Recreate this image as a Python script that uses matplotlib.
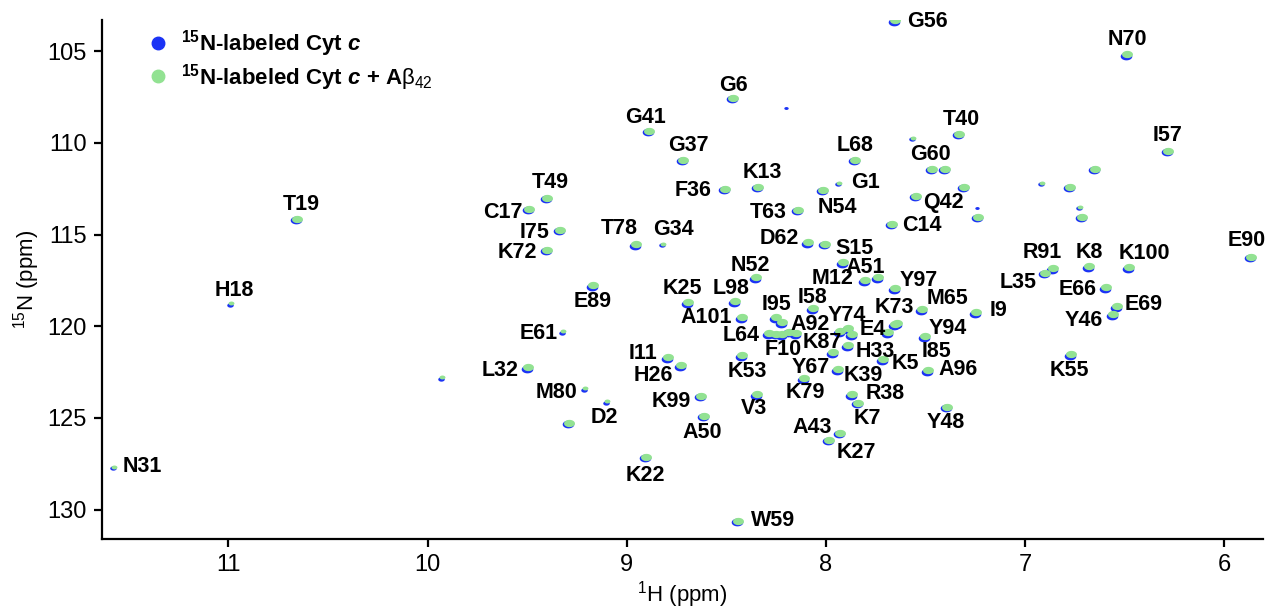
import matplotlib
matplotlib.use("Agg")
import matplotlib.pyplot as plt
import matplotlib.transforms as mtransforms
from matplotlib.path import Path
from matplotlib.lines import Line2D
import numpy as np

plt.rcParams['font.family'] = ['Liberation Sans', 'DejaVu Sans']
plt.rcParams['mathtext.fontset'] = 'custom'
plt.rcParams['mathtext.rm'] = 'Liberation Sans'
plt.rcParams['mathtext.bf'] = 'Liberation Sans:bold'
plt.rcParams['mathtext.it'] = 'Liberation Sans:bold:italic'

# 1H / 15N shifts (ppm) of the cross peaks in the Cyt c + Abeta42 spectrum
h_ppm = [7.652, 6.487, 8.465, 8.887, 8.716, 7.852, 8.339, 8.505, 8.013, 9.399,
         7.330, 6.281, 7.466, 7.401, 6.648, 7.305, 6.773, 7.546, 7.235, 6.713,
         7.667, 5.864, 6.858, 6.899, 6.678, 6.477, 6.592, 6.537, 6.557, 6.768,
         7.652, 7.516, 7.245, 7.652, 7.687, 7.501, 7.486, 7.712, 9.489, 8.139,
         9.333, 9.399, 8.952, 8.088, 8.003, 7.913, 8.349, 7.802, 7.737, 9.168,
         8.691, 8.455, 8.063, 8.420, 8.249, 8.219, 8.284, 8.219, 8.149, 7.928,
         7.888, 7.867, 7.963, 7.888, 8.791, 8.726, 8.420, 9.494, 7.938, 9.288,
         8.626, 8.610, 8.344, 8.902, 8.440, 8.108, 7.867, 7.837, 7.928, 7.983,
         7.391, 10.654, 7.642, 8.250, 8.185]
n_ppm = [103.32, 105.16, 107.55, 109.35, 110.92, 110.92, 112.39, 112.50, 112.55, 112.99,
         109.51, 110.43, 111.41, 111.41, 111.41, 112.39, 112.39, 112.88, 114.02, 114.02,
         114.40, 116.20, 116.85, 117.07, 116.74, 116.79, 117.88, 118.91, 119.35, 121.52,
         117.93, 119.08, 119.24, 119.89, 120.33, 120.54, 122.39, 121.79, 113.59, 113.64,
         114.73, 115.82, 115.54, 115.43, 115.49, 116.52, 117.34, 117.50, 117.34, 117.77,
         118.70, 118.64, 119.02, 119.51, 119.51, 119.78, 120.38, 120.43, 120.38, 120.27,
         120.11, 120.43, 121.41, 121.03, 121.68, 122.12, 121.58, 122.23, 122.34, 125.27,
         123.80, 124.89, 123.70, 127.12, 130.60, 122.83, 123.70, 124.18, 125.82, 126.20,
         124.40, 114.13, 119.84, 120.40, 120.30]

# weak peaks, drawn smaller
weak_h = [7.933, 7.561, 6.914, 6.723, 8.816, 9.318, 10.985, 11.577, 9.926, 9.208, 9.097]
weak_n = [112.17, 109.73, 112.17, 113.48, 115.49, 120.27, 118.75, 127.66, 122.77, 123.37, 124.08]

# peaks only seen in free Cyt c
free_h = [8.199, 7.240, 9.097]
free_n = [108.10, 113.53, 124.08]

# residue assignments and where their labels sit (1H, 15N)
labels = ['G56', 'N70', 'G6', 'G41', 'T40', 'I57', 'G37', 'L68', 'G60', 'K13',
          'G1', 'F36', 'T49', 'Q42', 'C17', 'T63', 'N54', 'T19', 'C14', 'I75',
          'T78', 'G34', 'D62', 'S15', 'E90', 'R91', 'K8', 'K100', 'K72', 'N52',
          'A51', 'Y97', 'M12', 'L35', 'E66', 'K25', 'L98', 'E89', 'H18', 'M65',
          'K73', 'I58', 'I95', 'E69', 'Y74', 'I9', 'A101', 'Y46', 'A92', 'Y94',
          'E61', 'L64', 'E4', 'K87', 'F10', 'H33', 'I85', 'I11', 'K5', 'Y67',
          'L32', 'K53', 'K39', 'A96', 'K55', 'H26', 'K79', 'M80', 'R38', 'K99',
          'V3', 'K7', 'D2', 'Y48', 'A50', 'A43', 'K27', 'N31', 'K22', 'W59']
label_h = [7.491, 6.487, 8.465, 8.907, 7.320, 6.286, 8.691, 7.852, 7.476, 8.319,
           7.802, 8.666, 9.384, 7.411, 9.624, 8.289, 7.943, 10.634, 7.516, 9.464,
           9.037, 8.766, 8.234, 7.857, 5.885, 6.914, 6.678, 6.402, 9.549, 8.380,
           7.800, 7.536, 7.968, 7.034, 6.738, 8.721, 8.475, 9.173, 10.970, 7.391,
           7.657, 8.068, 8.249, 6.402, 7.893, 7.135, 8.600, 6.703, 8.078, 7.386,
           9.444, 8.425, 7.767, 8.018, 8.214, 7.752, 7.446, 8.917, 7.601, 8.078,
           9.635, 8.395, 7.812, 7.335, 6.778, 8.866, 8.103, 9.353, 7.702, 8.776,
           8.359, 7.792, 9.112, 7.396, 8.620, 8.068, 7.847, 11.432, 8.907, 8.264]
label_n = [103.37, 104.35, 106.85, 108.64, 108.70, 109.62, 110.16, 110.16, 110.65, 111.63,
           112.17, 112.61, 112.17, 113.26, 113.80, 113.80, 113.53, 113.37, 114.51, 114.89,
           114.67, 114.73, 115.22, 115.75, 115.33, 115.98, 115.98, 116.03, 115.98, 116.68,
           116.80, 117.50, 117.42, 117.61, 117.99, 117.93, 117.93, 118.64, 118.04, 118.48,
           118.97, 118.42, 118.80, 118.80, 119.40, 119.13, 119.51, 119.67, 119.89, 120.11,
           120.38, 120.49, 120.18, 120.87, 121.25, 121.35, 121.36, 121.47, 122.01, 122.23,
           122.39, 122.45, 122.66, 122.34, 122.39, 122.66, 123.59, 123.59, 123.64, 124.08,
           124.51, 125.05, 124.95, 125.27, 125.82, 125.54, 126.90, 127.66, 128.15, 130.60]

blue = '#1b33f5'
green = '#92e292'

# flat elliptical marker for the peak contours
t = np.linspace(0, 2 * np.pi, 40)
blob = Path(np.column_stack([1.5 * np.cos(t), np.sin(t)]), closed=True)

fig = plt.figure(figsize=(12.7, 6.09), dpi=100)
ax = fig.add_axes([102 / 1270, 70 / 609, 1161 / 1270, 519 / 609])

shift = mtransforms.offset_copy(ax.transData, fig=fig, x=-1.0, y=-1.5, units='dots')
ax.scatter(h_ppm, n_ppm, s=70, marker=blob, color=blue, lw=0, transform=shift, zorder=2)
ax.scatter(weak_h, weak_n, s=22, marker=blob, color=blue, lw=0, transform=shift, zorder=2)
ax.scatter(free_h, free_n, s=10, marker=blob, color=blue, lw=0, zorder=2)
ax.scatter(h_ppm, n_ppm, s=62, marker=blob, color=green, lw=0, zorder=3)
ax.scatter(weak_h, weak_n, s=18, marker=blob, color=green, lw=0, zorder=3)

for name, x, y in zip(labels, label_h, label_n):
    ax.text(x, y, name, fontsize=15.5, fontweight='bold', ha='center', va='center', zorder=4)

ax.set_xlim(11.635, 5.805)
ax.set_ylim(131.6, 103.3)
ax.set_xticks([11, 10, 9, 8, 7, 6])
ax.set_yticks([105, 110, 115, 120, 125, 130])
ax.tick_params(labelsize=17, width=1.6, length=6, direction='out', pad=5)
for side in ['top', 'right']:
    ax.spines[side].set_visible(False)
for side in ['left', 'bottom']:
    ax.spines[side].set_linewidth(1.6)

ax.set_xlabel(r'$^{1}$H (ppm)', fontsize=16, labelpad=2)
ax.set_ylabel(r'$^{15}$N (ppm)', fontsize=16, labelpad=4)

handles = [Line2D([], [], ls='', marker='o', ms=9, color=blue),
           Line2D([], [], ls='', marker='o', ms=9, color=green)]
ax.legend(handles, [r'$^{\mathbf{15}}$N-labeled Cyt $c$',
                    r'$^{\mathbf{15}}$N-labeled Cyt $c$ + A$\mathrm{\beta}_{\mathrm{42}}$'],
          loc='upper left', bbox_to_anchor=(0.012, 1.023), frameon=False,
          prop={'weight': 'bold', 'size': 16}, handletextpad=0.05, labelspacing=0.12)

fig.savefig('out.png', dpi=100)
